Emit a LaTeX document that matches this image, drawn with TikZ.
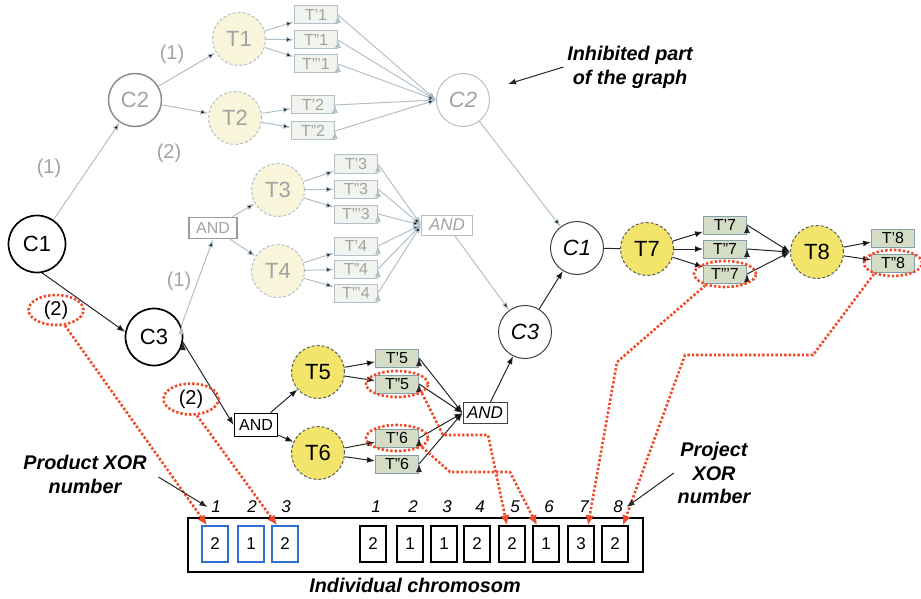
\documentclass[tikz,border=0pt]{standalone}
\usepackage{fontspec}
\setmainfont{Liberation Sans}
\usepackage{tikz}
\usetikzlibrary{arrows}
\usetikzlibrary{arrows.meta}
\usetikzlibrary{shapes.geometric}
\definecolor{dimline}{HTML}{B2C0CA}
\definecolor{dimtext}{HTML}{A2A2A2}
\definecolor{dimfill}{HTML}{F8F5DA}
\definecolor{dimbox}{HTML}{F1F3EE}
\definecolor{taskfill}{HTML}{F3E56C}
\definecolor{varfill}{HTML}{D5DCC6}
\definecolor{varline}{HTML}{86A0AA}
\definecolor{xorred}{HTML}{F04A28}
\definecolor{geneblue}{HTML}{2E6FD0}
\tikzset{basic/.style={draw,text badly centered,inner sep=0pt}}
\tikzset{cond/.style={basic,circle,minimum size=53pt,font=\fontsize{22}{22}\selectfont}}
\tikzset{variant/.style={basic,rectangle,minimum width=43pt,minimum height=18pt,
                         font=\fontsize{16}{16}\selectfont}}
\tikzset{gene/.style={basic,rectangle,minimum width=26pt,minimum height=36pt,
                      line width=1.4pt,font=\fontsize{17}{17}\selectfont}}

\begin{document}
\begin{tikzpicture}[x=1pt,y=-1pt,line width=1pt,>={Latex[length=8pt,width=6pt]}]
    \tikzstyle{dimcond}=[cond,draw=dimline,text=dimtext]
    \tikzstyle{dimtask}=[cond,fill=dimfill,draw=dimline,text=dimtext,dash pattern=on 3pt off 2pt]
    \tikzstyle{task}=[cond,fill=taskfill,draw=black!65,dash pattern=on 3pt off 2pt]
    \tikzstyle{dimvar}=[variant,fill=dimbox,draw=dimline,text=dimtext]
    \tikzstyle{var}=[variant,fill=varfill,draw=varline]
    \tikzstyle{dimedge}=[->,draw=dimline]
    \tikzstyle{edge}=[->,draw=black!85]
    \tikzstyle{annot}=[font=\fontsize{20}{20}\selectfont]
    \tikzstyle{idx}=[font=\fontsize{17}{17}\selectfont\itshape]
    \tikzstyle{note}=[align=center,font=\fontsize{19.8}{24}\selectfont\bfseries\itshape]
    \tikzstyle{ring}=[ellipse,draw=xorred,line width=2.6pt,dash pattern=on 2.4pt off 2pt,
                      minimum width=62pt,minimum height=26pt,inner sep=0pt]
    \tikzstyle{xorlink}=[-{Latex[length=10pt,width=9pt]},draw=xorred,line width=2.6pt,
                         dash pattern=on 2.4pt off 2pt]

    \useasboundingbox (0,0) rectangle (921,599);

    % Draw the condition nodes
    \node[cond,minimum size=57pt,line width=1.7pt] (C1) at (37,244) {C1};
    \node[dimcond,line width=1.5pt,draw=black!45] (C2) at (135,100) {C2};
    \node[cond,minimum size=57pt,line width=1.7pt] (C3) at (154,337) {C3};
    \node[dimcond] (C2i) at (463,100) {\textit{C2}};
    \node[cond,draw=black!75] (C1i) at (577,248) {\textit{C1}};
    \node[cond,draw=black!75] (C3i) at (525,332) {\textit{C3}};

    % Draw the task nodes
    \foreach \name / \x / \y in {1/239/39, 2/235/118, 3/278/190, 4/278/271}
        \node[dimtask] (T\name) at (\x,\y) {T\name};
    \foreach \name / \x / \y in {5/318/372, 6/318/453, 7/647/249, 8/817/252}
        \node[task] (T\name) at (\x,\y) {T\name};

    % Draw the variants of every task
    \foreach \name / \txt / \x / \y in {1-1/T'1/316/15, 1-2/T''1/316/40, 1-3/T'''1/316/64,
                                      2-1/T'2/313/105, 2-2/T''2/313/131,
                                      3-1/T'3/356/164, 3-2/T''3/356/189, 3-3/T'''3/356/214,
                                      4-1/T'4/356/246, 4-2/T''4/356/269, 4-3/T'''4/356/293}
        \node[dimvar] (V\name) at (\x,\y) {\txt};
    \foreach \name / \txt / \x / \y in {5-1/T'5/397/358, 5-2/T''5/397/384,
                                      6-1/T'6/397/438, 6-2/T''6/397/464,
                                      7-1/T'7/725/225, 7-2/T''7/725/249, 7-3/T'''7/725/274,
                                      8-1/T'8/893/238, 8-2/T''8/893/263}
        \node[var] (V\name) at (\x,\y) {\txt};

    % Draw the AND nodes
    \node[basic,draw=black!40,text=dimtext,line width=1.8pt,minimum width=48pt,
          minimum height=21pt,font=\fontsize{16}{16}\selectfont] (A1) at (213,228) {AND};
    \node[dimvar,fill=white,minimum width=51pt,minimum height=20pt,
          font=\fontsize{17}{17}\selectfont] (A2) at (447,225) {\textit{AND}};
    \node[basic,line width=1.8pt,minimum width=43pt,minimum height=23pt,
          font=\fontsize{16}{16}\selectfont] (A3) at (256,425) {AND};
    \node[basic,draw=black!75,minimum width=44pt,minimum height=21pt,
          font=\fontsize{17}{17}\selectfont] (A4) at (485,413) {\textit{AND}};

    % Connect the inhibited part of the graph
    \path[dimedge] (C1) edge (C2)
                   (C2) edge (T1)
                   (C2) edge (T2)
                   (C3.22) edge (A1.south)
                   (A1) edge (T3)
                   (A1) edge (T4)
                   (C2i) edge (C1i)
                   (A2) edge (C3i);
    \foreach \t / \n in {1/3, 2/2, 3/3, 4/3}
        \foreach \v in {1,...,\n}
            \path[dimedge] (T\t) edge (V\t-\v);
    \foreach \t / \n in {1/3, 2/2}
        \foreach \v in {1,...,\n}
            \path[dimedge] (V\t-\v.east) edge (C2i.west);
    \foreach \t in {3,4}
        \foreach \v in {1,2,3}
            \path[dimedge] (V\t-\v.east) edge (A2.west);

    % Connect the active part of the graph
    \path[edge] (C1.-80) edge (C3.170)
                (C3.-10) edge (A3.west)
                (A3) edge (T5)
                (A3) edge (T6)
                (A4) edge (C3i)
                (C3i) edge (C1i)
                (C1i) edge[-] (T7);
    \foreach \t in {5,6}
        \foreach \v in {1,2}
            \path[edge] (T\t) edge (V\t-\v)
                        (V\t-\v.east) edge (A4.west);
    \foreach \v in {1,2,3}
        \path[edge] (T7) edge (V7-\v)
                    (V7-\v.east) edge (T8.west);
    \foreach \v in {1,2}
        \path[edge] (T8) edge (V8-\v);

    % Annotate the XOR branches
    \node[annot,text=dimtext] (L1) at (172,54) {(1)};
    \node[annot,text=dimtext] (L2) at (169,153) {(2)};
    \node[annot,text=dimtext] (L3) at (49,168) {(1)};
    \node[annot,text=dimtext] (L4) at (179,281) {(1)};

    % Draw the chromosome
    \node[basic,minimum width=455pt,minimum height=54pt,line width=1.4pt] (chrom) at (415.5,545) {};
    \foreach \i / \x / \v in {1/215/2, 2/251/1, 3/285/2}
    {
        \node[gene,draw=geneblue] (B\i) at (\x,544) {\v};
        \node[idx] (P\i) at (\x+1,507) {\i};
    }
    \foreach \i / \x / \v in {1/373/2, 2/410/1, 3/444/1, 4/477/2, 5/512/2, 6/546/1, 7/581/3, 8/615/2}
    {
        \node[gene] (G\i) at (\x,544) {\v};
        \node[idx] (N\i) at (\x+3,507) {\i};
    }

    % Mark the chosen alternatives and link them to the genes
    \node[annot,ring,minimum width=55pt,minimum height=30pt] (R1) at (56,310) {(2)};
    \node[annot,ring,minimum width=55pt,minimum height=31pt] (R2) at (191,399) {(2)};
    \node[ring] (R3) at (V5-2) {};
    \node[ring] (R4) at (V6-1) {};
    \node[ring] (R5) at (V7-3) {};
    \node[ring,minimum width=58pt] (R6) at (V8-2) {};
    \draw[xorlink] (R1.-60) -- ([xshift=-8pt]B1.north);
    \draw[xorlink] (R2.-70) -- ([xshift=-8pt]B3.north);
    \draw[xorlink] (R3.-20) -- (443,435) -- (488,435) -- ([xshift=-5pt]G5.north);
    \draw[xorlink] (R4.-20) -- (450,472) -- (510,472) -- ([xshift=-9pt]G6.north);
    \draw[xorlink] (R5.-150) -- (617,362) -- ([xshift=7pt]G7.north);
    \draw[xorlink] (R6.-150) -- (813,355) -- (685,355) -- ([xshift=8pt]G8.north);

    % Notes
    \node[note] (inh) at (630,67) {Inhibited part\\of the graph};
    \coordinate (inh-tip) at (508,84);
    \draw[->,black!85] (inh.west) -- (inh-tip);
    \node[note] (prod) at (85,474) {Product XOR\\number};
    \draw[->,black!85] ([xshift=8pt,yshift=-3pt]prod.east) -- (P1.west);
    \node[note,font=\fontsize{19.8}{23.5}\selectfont\bfseries\itshape] (proj) at (714,473) {Project\\XOR\\number};
    \draw[->,black!85] (proj.west) -- (N8.east);
    \node[note] (chromname) at (415,585) {Individual chromosom};
\end{tikzpicture}
\end{document}
